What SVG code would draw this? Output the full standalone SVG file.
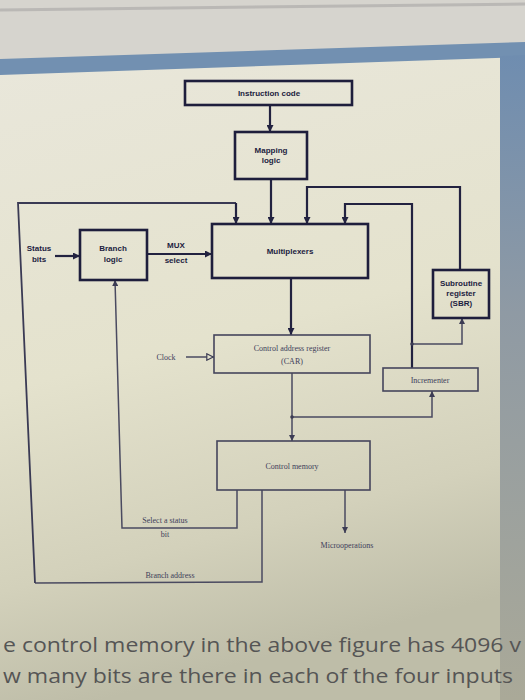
<svg xmlns="http://www.w3.org/2000/svg" width="525" height="700" viewBox="0 0 525 700">
<defs>
<linearGradient id="panel" x1="0" y1="0" x2="0.2" y2="1">
<stop offset="0" stop-color="#e9e7db"/>
<stop offset="0.5" stop-color="#e4e2cd"/>
<stop offset="0.8" stop-color="#d3d1bb"/>
<stop offset="1" stop-color="#bebda8"/>
</linearGradient>
<linearGradient id="strip" x1="0" y1="0" x2="0" y2="1">
<stop offset="0" stop-color="#6f8db0"/>
<stop offset="0.4" stop-color="#8f9aa4"/>
<stop offset="1" stop-color="#aaa998"/>
</linearGradient>
<marker id="ah" viewBox="0 0 10 10" refX="10" refY="5" markerWidth="7" markerHeight="7" markerUnits="userSpaceOnUse" orient="auto">
<path d="M0,0 L10,5 L0,10 z" fill="#222240"/>
</marker>
<marker id="ahl" viewBox="0 0 10 10" refX="10" refY="5" markerWidth="6" markerHeight="6" markerUnits="userSpaceOnUse" orient="auto">
<path d="M0,0 L10,5 L0,10 z" fill="#3c3c54"/>
</marker>
<marker id="clk" viewBox="0 0 10 10" refX="10" refY="5" markerWidth="8" markerHeight="8" markerUnits="userSpaceOnUse" orient="auto">
<path d="M1,1 L9,5 L1,9 z" fill="#e3e1cc" stroke="#3c3c54" stroke-width="1.5"/>
</marker>
<style>
.bx{fill:none;stroke:#1e1e3c;stroke-width:2.6}
.lb{fill:none;stroke:#45455c;stroke-width:1.6}
.w{fill:none;stroke:#222240;stroke-width:2.2}
.wm{fill:none;stroke:#3a3a54;stroke-width:1.8}
.wl{fill:none;stroke:#4a4a60;stroke-width:1.5}
.tb{font-family:"Liberation Sans",Arial,sans-serif;font-weight:bold;font-size:8px;fill:#1c1c40;text-anchor:middle}
.tl{font-family:"Liberation Serif","Times New Roman",serif;font-size:8px;fill:#40405a;text-anchor:middle}
.q{font-family:"Open Sans","Noto Sans",sans-serif;font-size:20px;fill:#555555}
</style>
</defs>
<!-- background photo -->
<rect x="0" y="0" width="525" height="700" fill="#d6d4ce"/>
<path d="M0,10 L525,4" stroke="#a8a6a6" stroke-width="3" opacity="0.6"/>
<polygon points="0,73 500,57 500,700 0,700" fill="url(#panel)"/>
<polygon points="0,59 525,42 525,57 0,75" fill="#7290b1"/>
<polygon points="500,56 525,55 525,700 500,700" fill="url(#strip)"/>

<g id="connectors">
<line class="w" x1="270" y1="105" x2="270" y2="132" marker-end="url(#ah)"/>
<line class="w" x1="271" y1="179" x2="271" y2="224" marker-end="url(#ah)"/>
<polyline class="wl" points="262,490 262,582 35,583"/>
<polyline class="wm" points="35,583 18,203 236,203"/>
<line class="w" x1="236" y1="203" x2="236" y2="224" marker-end="url(#ah)"/>
<polyline class="w" points="460,270 460,187 307,187 307,224" marker-end="url(#ah)"/>
<polyline class="w" points="412,368 412,204 345,204 345,224" marker-end="url(#ah)"/>
<line class="w" x1="55" y1="256" x2="80" y2="256" marker-end="url(#ah)"/>
<line class="w" x1="147" y1="254" x2="212" y2="254" marker-end="url(#ah)"/>
<line class="w" x1="291" y1="278" x2="291" y2="335" marker-end="url(#ah)"/>
<line class="wl" x1="186" y1="357" x2="214" y2="357" marker-end="url(#clk)"/>
<line class="wl" x1="292" y1="373" x2="292" y2="441" marker-end="url(#ahl)"/>
<polyline class="wl" points="292,417 432,417 432,391" marker-end="url(#ahl)"/>
<polyline class="wl" points="412,344 462,344 462,318" marker-end="url(#ahl)"/>
<circle cx="292" cy="417" r="1.8" fill="#3c3c54"/>
<circle cx="412" cy="344" r="1.8" fill="#3c3c54"/>
<polyline class="wl" points="237,490 237,528 122,528 115,280" marker-end="url(#ahl)"/>
<line class="wl" x1="345" y1="490" x2="345" y2="533" marker-end="url(#ahl)"/>
</g>

<g id="instruction-code">
<rect class="bx" x="185" y="81" width="167" height="24"/>
<text class="tb" x="269" y="96">Instruction code</text>
</g>
<g id="mapping-logic">
<rect class="bx" x="235" y="132" width="72" height="47"/>
<text class="tb" x="271" y="153">Mapping</text>
<text class="tb" x="271" y="163">logic</text>
</g>
<g id="multiplexers">
<rect class="bx" x="212" y="224" width="156" height="54"/>
<text class="tb" x="290" y="254">Multiplexers</text>
</g>
<g id="status-bits">
<text class="tb" x="39" y="251">Status</text>
<text class="tb" x="39" y="262">bits</text>
</g>
<g id="branch-logic">
<rect class="bx" x="80" y="230" width="67" height="50"/>
<text class="tb" x="113" y="251">Branch</text>
<text class="tb" x="113" y="262">logic</text>
</g>
<g id="mux-select">
<text class="tb" x="176" y="248">MUX</text>
<text class="tb" x="176" y="263">select</text>
</g>
<g id="sbr">
<rect class="bx" x="433" y="270" width="56" height="48"/>
<text class="tb" x="461" y="286" font-size="7.5">Subroutine</text>
<text class="tb" x="461" y="296" font-size="7.5">register</text>
<text class="tb" x="461" y="306" font-size="7.5">(SBR)</text>
</g>
<g id="car">
<rect class="lb" x="214" y="335" width="156" height="38"/>
<text class="tl" x="292" y="351">Control address register</text>
<text class="tl" x="292" y="364">(CAR)</text>
</g>
<g id="clock">
<text class="tl" x="166" y="360">Clock</text>
</g>
<g id="incrementer">
<rect class="lb" x="383" y="368" width="95" height="23"/>
<text class="tl" x="430" y="383">Incrementer</text>
</g>
<g id="control-memory">
<rect class="lb" x="217" y="441" width="153" height="49"/>
<text class="tl" x="292" y="469">Control memory</text>
</g>
<g id="labels">
<text class="tl" x="165" y="523">Select a status</text>
<text class="tl" x="165" y="537">bit</text>
<text class="tl" x="170" y="578">Branch address</text>
<text class="tl" x="347" y="548">Microoperations</text>
</g>
<g id="page-text">
<text class="q" x="3" y="652" textLength="518" lengthAdjust="spacingAndGlyphs">e control memory in the above figure has 4096 v</text>
<text class="q" x="3" y="683" textLength="510" lengthAdjust="spacingAndGlyphs">w many bits are there in each of the four inputs</text>
</g>
</svg>
